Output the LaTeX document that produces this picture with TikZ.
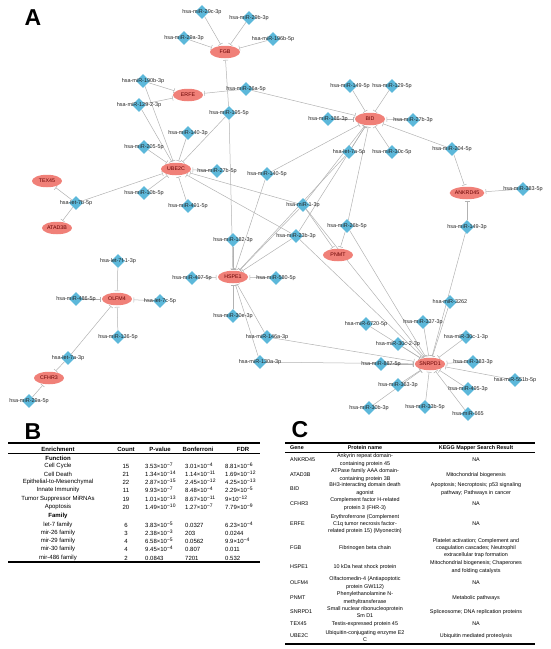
\documentclass[tikz,border=0pt]{standalone}
\usepackage{fontspec}
\setmainfont{Liberation Sans}
\usetikzlibrary{shapes.geometric,arrows.meta,backgrounds}
\definecolor{genered}{RGB}{240,128,120}
\definecolor{mirblue}{RGB}{92,184,218}
\definecolor{edgegray}{RGB}{178,178,178}
\newcommand{\sci}[2]{#1×10\textsuperscript{−#2}}

\begin{document}
\begin{tikzpicture}[x=1pt, y=-1pt,
                    gene/.style={ellipse, fill=genered, inner sep=0pt, minimum width=30pt,
                                 minimum height=12.5pt, font=\fontsize{5.3}{6}\selectfont, text=red!40!black},
                    mir/.style={diamond, fill=mirblue, inner sep=0pt, minimum width=14pt, minimum height=14pt},
                    mirlbl/.style={font=\fontsize{5.5}{6}\selectfont, text=black!85, inner sep=0pt},
                    inh/.style={edgegray, line width=0.5pt, -{Bar[width=5pt, line width=0.5pt]}, shorten >=1.5pt},
                    panel/.style={font=\fontsize{23}{23}\selectfont\bfseries, inner sep=0pt},
                    bhead/.style={font=\fontsize{6}{7}\selectfont\bfseries, inner sep=0pt},
                    bcell/.style={font=\fontsize{6}{7}\selectfont, inner sep=0pt},
                    chead/.style={font=\fontsize{5.4}{6.5}\selectfont\bfseries, inner sep=0pt},
                    ccell/.style={font=\fontsize{5.4}{7.3}\selectfont, inner sep=0pt, align=center}]
  \useasboundingbox (0,0) rectangle (550,649);

  % A: network
  \node[panel] (lbla) at (33,18) {A};
  \foreach \n/\x/\y/\t in {fgb/225/52/FGB, erfe/188/95/ERFE, ube2c/176/169/UBE2C, tex45/47/181/TEX45,
                           atad3b/57/228/ATAD3B, bid/370/119/BID, ankrd45/467/193/ANKRD45, pnmt/338/255/PNMT,
                           hspe1/233/277/HSPE1, olfm4/117/299/OLFM4, cfhr3/49/378/CFHR3, snrpd1/430/364/SNRPD1}
    \node[gene] (\n) at (\x,\y) {\t};
  \foreach \n/\x/\y/\t in {m29c3/202/12/hsa-miR-29c-3p, m29b3/249/18/hsa-miR-29b-3p, m29a3/184/38/hsa-miR-29a-3p,
                           m196b5/273/39/hsa-miR-196b-5p, m190b3/143/81/hsa-miR-190b-3p, m12923/139/105/hsa-miR-129-2-3p,
                           m26a5/246/89/hsa-miR-26a-5p, m1955/229/113/hsa-miR-195-5p, m1403/188/133/hsa-miR-140-3p,
                           m2055/144/147/hsa-miR-205-5p, m27b5/217/171/hsa-miR-27b-5p, m1405/267/174/hsa-miR-140-5p,
                           m10b5/144/193/hsa-miR-10b-5p, l7b5/76/203/hsa-let-7b-5p, m4915/188/206/hsa-miR-491-5p,
                           m1495/350/86/hsa-miR-149-5p, m1295/392/86/hsa-miR-129-5p, m1863/328/119/hsa-miR-186-3p,
                           m27b3/413/120/hsa-miR-27b-3p, l7a5/349/152/hsa-let-7a-5p, m30c5/392/152/hsa-miR-30c-5p,
                           m2045/452/149/hsa-miR-204-5p, m3835/523/189/hsa-miR-383-5p, m13/303/205/hsa-miR-1-3p,
                           m26b5/347/226/hsa-miR-26b-5p, m23b3/296/236/hsa-miR-23b-3p, m1493/467/227/hsa-miR-149-3p,
                           m1823/233/240/hsa-miR-182-3p, m5805/276/278/hsa-miR-580-5p, m4975/192/278/hsa-miR-497-5p,
                           l7f13/118/261/hsa-let-7f-1-3p, m4865/76/299/hsa-miR-486-5p, l7c5/160/301/hsa-let-7c-5p,
                           m1365/118/337/hsa-miR-136-5p, l7a3/68/358/hsa-let-7a-3p, m29a5/29/401/hsa-miR-29a-5p,
                           m30e3/233/316/hsa-miR-30e-3p, m146a3/267/337/hsa-miR-146a-3p, m130a3/260/362/hsa-miR-130a-3p,
                           m3262/450/302/hsa-miR-3262, m67205/366/324/hsa-miR-6720-5p, m3373/423/322/hsa-miR-337-3p,
                           m30c13/466/337/hsa-miR-30c-1-3p, m30c23/398/344/hsa-miR-30c-2-3p, m8875/381/364/hsa-miR-887-5p,
                           m3833/473/362/hsa-miR-383-3p, m551b5/515/380/hsa-miR-551b-5p, m3633/398/385/hsa-miR-363-3p,
                           m4953/468/389/hsa-miR-495-3p, m30b3/369/408/hsa-miR-30b-3p, m33b5/425/407/hsa-miR-33b-5p,
                           m665/468/414/hsa-miR-665}
    \node[mir] (\n) at (\x,\y) {} node[mirlbl] at (\x,\y) {\t};
  \begin{scope}[on background layer]
    \foreach \a/\b in {m29c3/fgb, m29b3/fgb, m29a3/fgb, m196b5/fgb, m1955/fgb,
                       m190b3/erfe, m12923/erfe, m26a5/erfe,
                       m190b3/ube2c, m12923/ube2c, m1403/ube2c, m2055/ube2c, m1955/ube2c, m27b5/ube2c,
                       m10b5/ube2c, m4915/ube2c, l7b5/ube2c, m13/ube2c, m23b3/ube2c,
                       l7b5/tex45, l7b5/atad3b,
                       m26a5/bid, m1495/bid, m1295/bid, m1863/bid, m27b3/bid, l7a5/bid, m30c5/bid,
                       m2045/bid, m1405/bid, m13/bid, m23b3/bid, m26b5/bid,
                       m2045/ankrd45, m3835/ankrd45, m1493/ankrd45,
                       m26b5/pnmt, m13/pnmt,
                       m1955/hspe1, m1405/hspe1, m1823/hspe1, m4975/hspe1, m5805/hspe1, m30e3/hspe1,
                       m146a3/hspe1, m130a3/hspe1, m13/hspe1, m23b3/hspe1, l7a5/hspe1,
                       l7f13/olfm4, m4865/olfm4, l7c5/olfm4, m1365/olfm4, l7a3/olfm4,
                       l7a3/cfhr3, m29a5/cfhr3,
                       m1493/snrpd1, m3262/snrpd1, m3373/snrpd1, m67205/snrpd1, m30c13/snrpd1, m30c23/snrpd1,
                       m8875/snrpd1, m3833/snrpd1, m551b5/snrpd1, m3633/snrpd1, m30b3/snrpd1, m33b5/snrpd1,
                       m4953/snrpd1, m665/snrpd1, m146a3/snrpd1, m130a3/snrpd1, m23b3/snrpd1, m13/snrpd1, m26b5/snrpd1}
      \draw[inh] (\a) -- (\b);
  \end{scope}

  % B: enrichment table
  \node[panel] (lblb) at (33,432) {B};
  \draw[line width=1.3pt] (8,443) -- (260,443);
  \foreach \x/\t [count=\i] in {58/Enrichment, 126/Count, 160/P-value, 198/Bonferroni, 243/FDR}
    \node[bhead] (bh\i) at (\x,449) {\t};
  \draw[line width=0.5pt] (8,453.5) -- (260,453.5);
  \node[bhead] (bfunc) at (58,458) {Function};
  \node[bhead] (bfam) at (58,516) {Family};
  \foreach \y/\e/\c/\p/\b/\f [count=\i] in {466/Cell Cycle/15/\sci{3.53}{7}/\sci{3.01}{4}/\sci{8.81}{6},
        474/Cell Death/21/\sci{1.34}{14}/\sci{1.14}{11}/\sci{1.69}{12},
        482/Epithelial-to-Mesenchymal/22/\sci{2.87}{15}/\sci{2.45}{12}/\sci{4.25}{13},
        490/Innate Immunity/11/\sci{9.93}{7}/\sci{8.48}{4}/\sci{2.29}{5},
        499/Tumor Suppressor MiRNAs/19/\sci{1.01}{13}/\sci{8.67}{11}/\sci{9}{12},
        507/Apoptosis/20/\sci{1.49}{10}/\sci{1.27}{7}/\sci{7.79}{9},
        525/let-7 family/6/\sci{3.83}{5}/0.0327/\sci{6.23}{4},
        533/mir-26 family/3/\sci{2.38}{3}/203/0.0244,
        541/mir-29 family/4/\sci{6.58}{5}/0.0562/\sci{9.9}{4},
        549/mir-30 family/4/\sci{9.45}{4}/0.807/0.011,
        558/mir-486 family/2/0.0843/7201/0.532} {
    \node[bcell] (be\i) at (58,\y) {\e};
    \node[bcell] (bc\i) at (126,\y) {\c};
    \node[bcell, anchor=west] (bp\i) at (145,\y) {\p};
    \node[bcell, anchor=west] (bb\i) at (185,\y) {\b};
    \node[bcell, anchor=west] (bf\i) at (225,\y) {\f};
  }
  \draw[line width=1.3pt] (8,562) -- (260,562);

  % C: gene table
  \node[panel] (lblc) at (300,430) {C};
  \draw[line width=1.3pt] (285,443) -- (535,443);
  \node[chead] (ch1) at (297,448) {Gene};
  \node[chead] (ch2) at (365,448) {Protein name};
  \node[chead] (ch3) at (476,448) {KEGG Mapper Search Result};
  \draw[line width=0.5pt] (285,452.5) -- (535,452.5);
  \foreach \y/\g/\p/\k [count=\i] in {460/ANKRD45/{Ankyrin repeat domain-\\containing protein 45}/NA,
        475/ATAD3B/{ATPase family AAA domain-\\containing protein 3B}/Mitochondrial biogenesis,
        489/BID/{BH3-interacting domain death\\agonist}/{Apoptosis; Necroptosis; p53 signaling\\pathway; Pathways in cancer},
        504/CFHR3/{Complement factor H-related\\protein 3 (FHR-3)}/NA,
        524/ERFE/{Erythroferrone (Complement\\C1q tumor necrosis factor-\\related protein 15) (Myonectin)}/NA,
        548/FGB/Fibrinogen beta chain/{Platelet activation; Complement and\\coagulation cascades; Neutrophil\\extracellular trap formation},
        567/HSPE1/10 kDa heat shock protein/{Mitochondrial biogenesis; Chaperones\\and folding catalysts},
        583/OLFM4/{Olfactomedin-4 (Antiapoptotic\\protein GW112)}/NA,
        598/PNMT/{Phenylethanolamine N-\\methyltransferase}/Metabolic pathways,
        612/SNRPD1/{Small nuclear ribonucleoprotein\\Sm D1}/Spliceosome; DNA replication proteins,
        624/TEX45/Testis-expressed protein 45/NA,
        636/UBE2C/{Ubiquitin-conjugating enzyme E2\\C}/Ubiquitin mediated proteolysis} {
    \node[ccell, anchor=west] (cg\i) at (290,\y) {\g};
    \node[ccell] (cp\i) at (365,\y) {\p};
    \node[ccell] (ck\i) at (476,\y) {\k};
  }
  \draw[line width=1.3pt] (285,644) -- (535,644);
\end{tikzpicture}
\end{document}
